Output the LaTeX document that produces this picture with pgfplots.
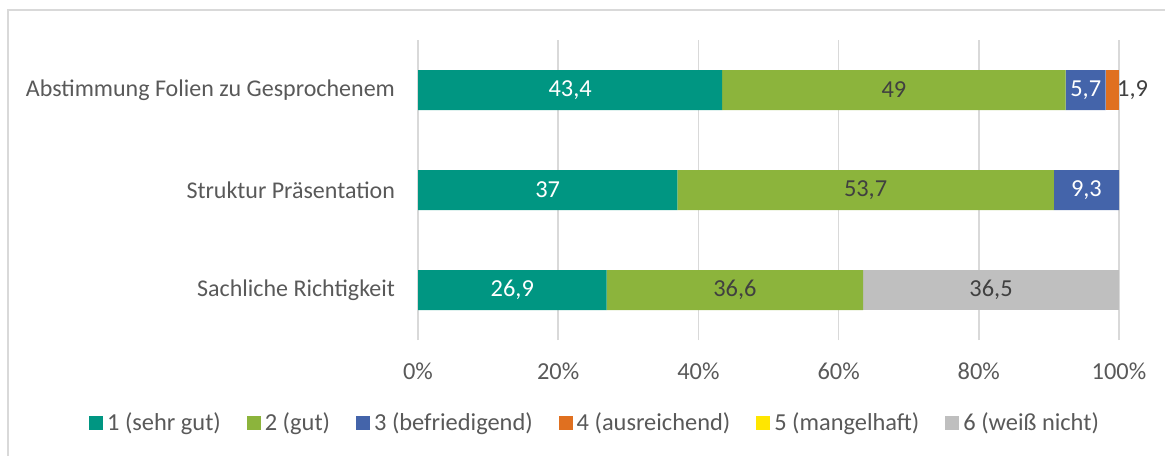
\documentclass[border=0pt]{standalone}
\usepackage{pgfplots}
\pgfplotsset{compat=1.18}
\usepackage{fontspec}
\setmainfont{Carlito}
\definecolor{c1}{RGB}{0,150,130}
\definecolor{c2}{RGB}{140,180,60}
\definecolor{c3}{RGB}{68,100,170}
\definecolor{c4}{RGB}{224,112,32}
\definecolor{c5}{RGB}{255,230,0}
\definecolor{c6}{RGB}{191,191,191}
\definecolor{gridc}{RGB}{217,217,217}
\definecolor{textc}{RGB}{89,89,89}
\definecolor{labc}{RGB}{64,64,64}
\newcommand{\fs}{\fontsize{12.2}{14.5}\selectfont}
\begin{document}
\begin{tikzpicture}
\useasboundingbox (0,0) rectangle (582.5pt,-227.5pt);
\draw[gridc, line width=0.8pt] (4pt,-230pt) -- (4pt,-5pt) -- (590pt,-5pt);
\begin{axis}[
  at={(209pt,-170pt)}, anchor=south west,
  scale only axis, width=350.5pt, height=150pt,
  xbar stacked, bar width=0.4,
  xmin=0, xmax=100, ymin=-0.5, ymax=2.5,
  ytick={0,1,2},
  yticklabels={Sachliche Richtigkeit, Struktur Präsentation, Abstimmung Folien zu Gesprochenem},
  xtick={0,20,40,60,80,100},
  xticklabel={\pgfmathprintnumber[assume math mode=true]{\tick}\%},
  xmajorgrids, grid style={color=gridc, line width=0.75pt},
  axis line style={draw=none}, major tick style={draw=none},
  tick label style={font=\fs, text=textc},
  xticklabel style={yshift=-8pt},
  yticklabel style={xshift=-8pt, font=\fontsize{12.0}{14.5}\selectfont},
  point meta=explicit symbolic,
  nodes near coords,
  every node near coord/.append style={font=\fs, anchor=center},
  legend columns=6,
  legend style={draw=none, at={(0.254,-0.277)}, anchor=center, font=\fs, text=textc,
    /tikz/every even column/.append style={column sep=11pt}},
  legend image code/.code={\fill[#1,draw=none] (0pt,-3.5pt) rectangle (7pt,3.5pt);},
]
\addplot[fill=c1, draw=none, every node near coord/.append style={text=white}]
  coordinates {(26.9,0) [26,9] (37,1) [37] (43.4,2) [43,4]};
\addplot[fill=c2, draw=none, every node near coord/.append style={text=labc}]
  coordinates {(36.6,0) [36,6] (53.7,1) [53,7] (49,2) [49]};
\addplot[fill=c3, draw=none, every node near coord/.append style={text=white}]
  coordinates {(0,0) [] (9.3,1) [9,3] (5.7,2) [5,7]};
\addplot[fill=c4, draw=none, every node near coord/.append style={text=labc, anchor=west, xshift=2.2pt, inner sep=0pt}]
  coordinates {(0,0) [] (0,1) [] (1.9,2) [1,9]};
\addplot[fill=c5, draw=none]
  coordinates {(0,0) [] (0,1) [] (0,2) []};
\addplot[fill=c6, draw=none, every node near coord/.append style={text=labc}]
  coordinates {(36.5,0) [36,5] (0,1) [] (0,2) []};
\legend{1 (sehr gut), 2 (gut), 3 (befriedigend), 4 (ausreichend), 5 (mangelhaft), 6 (weiß nicht)}
\end{axis}
\end{tikzpicture}
\end{document}
